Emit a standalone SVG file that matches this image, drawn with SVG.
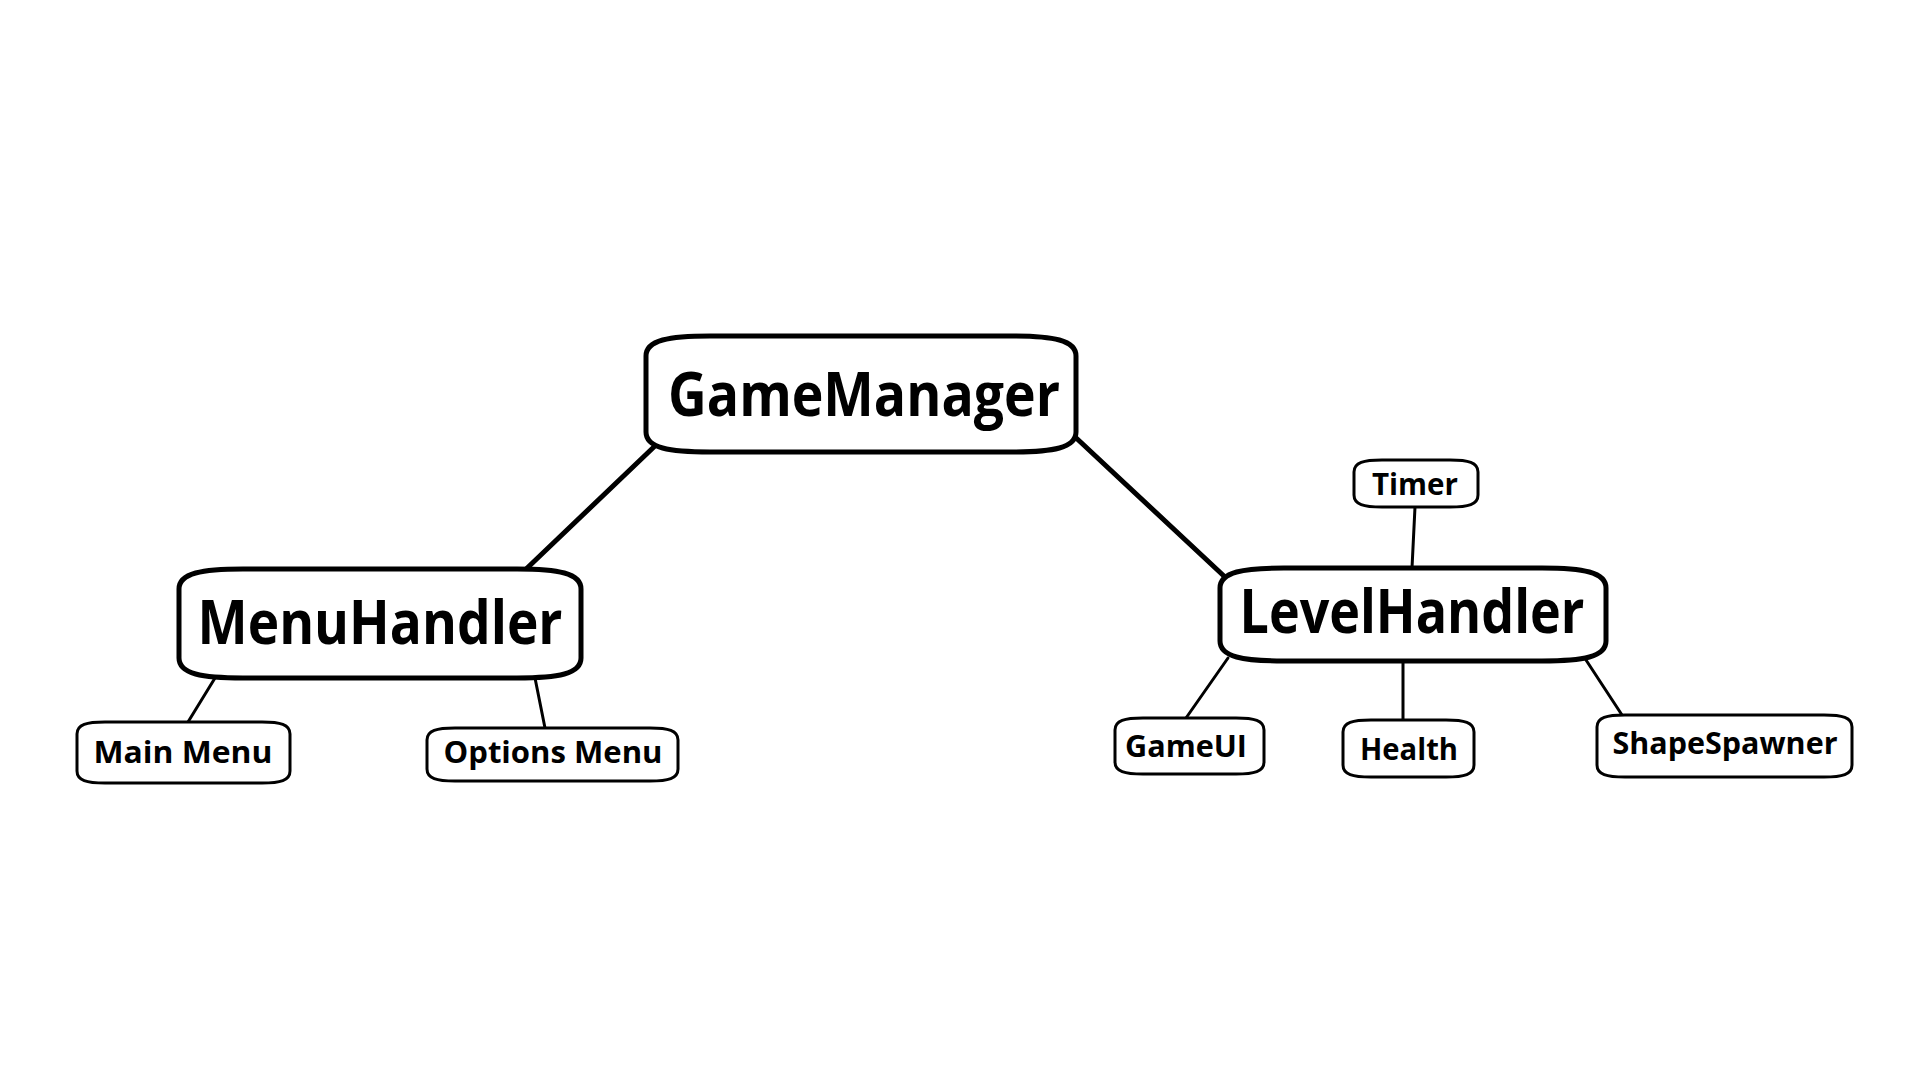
<svg xmlns="http://www.w3.org/2000/svg" width="1920" height="1080" viewBox="0 0 1920 1080">
<style>
.box{fill:#fff;stroke:#000;stroke-linejoin:round}
.big{stroke-width:5}
.small{stroke-width:3}
.lbl{font-family:"Open Sans","Noto Sans","Liberation Sans",sans-serif;font-weight:bold;fill:#000;text-anchor:middle}
.lb{font-size:60px}
.ls{font-size:29.5px}
.c{stroke:#000;fill:none;stroke-linecap:round}
.cb{stroke-width:5}
.cs{stroke-width:3}
</style>
<rect width="1920" height="1080" fill="#fff"/>
<g id="connectors">
<line class="c cb" x1="657" y1="444" x2="523" y2="572"/>
<line class="c cb" x1="1073" y1="435" x2="1225" y2="577"/>
<line class="c cs" x1="1412" y1="568" x2="1415" y2="507"/>
<line class="c cs" x1="1228" y1="658" x2="1186" y2="718"/>
<line class="c cs" x1="1403" y1="661" x2="1403" y2="720"/>
<line class="c cs" x1="1586" y1="660" x2="1622" y2="715"/>
<line class="c cs" x1="215" y1="678" x2="188" y2="722"/>
<line class="c cs" x1="535" y1="678" x2="545" y2="728"/>
</g>
<g id="GameManager">
<path class="box big" d="M646,356 C646,340 669,336 710,336 L1012,336 C1053,336 1076,340 1076,356 L1076,432 C1076,448 1053,452 1012,452 L710,452 C669,452 646,448 646,432 Z"/>
<text class="lbl lb" x="864" y="416" textLength="392" lengthAdjust="spacingAndGlyphs">GameManager</text>
</g>
<g id="MenuHandler">
<path class="box big" d="M179,589 C179,573 202,569 243,569 L517,569 C558,569 581,573 581,589 L581,658 C581,674 558,678 517,678 L243,678 C202,678 179,674 179,658 Z"/>
<text class="lbl lb" x="380" y="644" textLength="365" lengthAdjust="spacingAndGlyphs">MenuHandler</text>
</g>
<g id="LevelHandler">
<path class="box big" d="M1220,588 C1220,572 1243,568 1284,568 L1542,568 C1583,568 1606,572 1606,588 L1606,641 C1606,657 1583,661 1542,661 L1284,661 C1243,661 1220,657 1220,641 Z"/>
<text class="lbl lb" x="1412" y="633" textLength="345" lengthAdjust="spacingAndGlyphs">LevelHandler</text>
</g>
<g id="Timer">
<path class="box small" d="M1354,472 C1354,462.4 1363.8,460 1382,460 L1450,460 C1468.2,460 1478,462.4 1478,472 L1478,495 C1478,504.6 1468.2,507 1450,507 L1382,507 C1363.8,507 1354,504.6 1354,495 Z"/>
<text class="lbl ls" x="1415" y="495" textLength="86" lengthAdjust="spacingAndGlyphs">Timer</text>
</g>
<g id="MainMenu">
<path class="box small" d="M77,734 C77,724.4 86.8,722 105,722 L262,722 C280.2,722 290,724.4 290,734 L290,771 C290,780.6 280.2,783 262,783 L105,783 C86.8,783 77,780.6 77,771 Z"/>
<text class="lbl ls" x="183" y="763" textLength="179" lengthAdjust="spacingAndGlyphs">Main Menu</text>
</g>
<g id="OptionsMenu">
<path class="box small" d="M427,740 C427,730.4 436.8,728 455,728 L650,728 C668.2,728 678,730.4 678,740 L678,769 C678,778.6 668.2,781 650,781 L455,781 C436.8,781 427,778.6 427,769 Z"/>
<text class="lbl ls" x="553" y="763" textLength="219" lengthAdjust="spacingAndGlyphs">Options Menu</text>
</g>
<g id="GameUI">
<path class="box small" d="M1115,730 C1115,720.4 1124.8,718 1143,718 L1236,718 C1254.2,718 1264,720.4 1264,730 L1264,762 C1264,771.6 1254.2,774 1236,774 L1143,774 C1124.8,774 1115,771.6 1115,762 Z"/>
<text class="lbl ls" x="1186" y="757" textLength="122" lengthAdjust="spacingAndGlyphs">GameUI</text>
</g>
<g id="Health">
<path class="box small" d="M1343,732 C1343,722.4 1352.8,720 1371,720 L1446,720 C1464.2,720 1474,722.4 1474,732 L1474,765 C1474,774.6 1464.2,777 1446,777 L1371,777 C1352.8,777 1343,774.6 1343,765 Z"/>
<text class="lbl ls" x="1409" y="760" textLength="98" lengthAdjust="spacingAndGlyphs">Health</text>
</g>
<g id="ShapeSpawner">
<path class="box small" d="M1597,727 C1597,717.4 1606.8,715 1625,715 L1824,715 C1842.2,715 1852,717.4 1852,727 L1852,765 C1852,774.6 1842.2,777 1824,777 L1625,777 C1606.8,777 1597,774.6 1597,765 Z"/>
<text class="lbl ls" x="1725" y="754" textLength="225" lengthAdjust="spacingAndGlyphs">ShapeSpawner</text>
</g>
</svg>
